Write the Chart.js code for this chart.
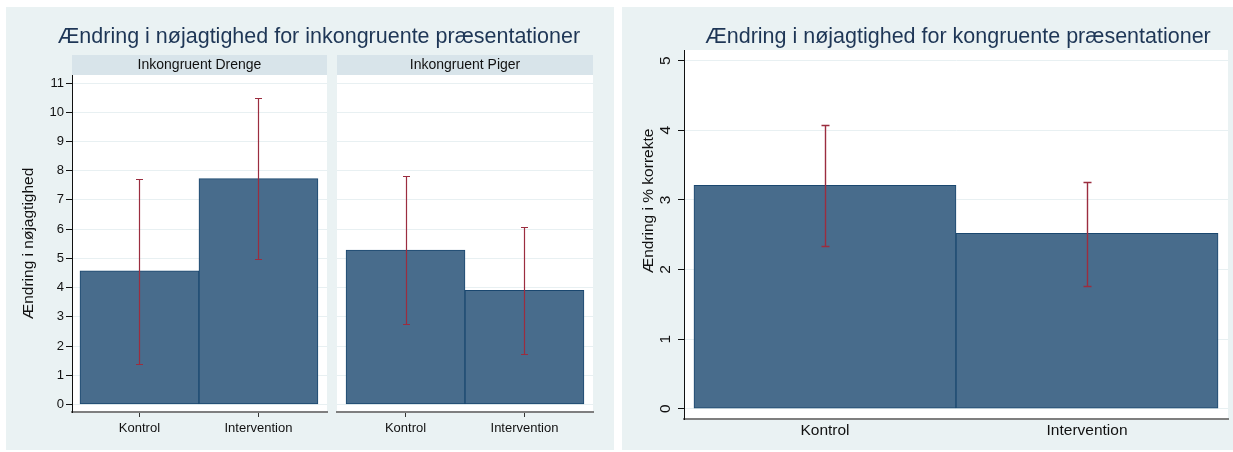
<!DOCTYPE html>
<html>
<head>
<meta charset="utf-8">
<script src="https://cdn.jsdelivr.net/npm/chart.js@4.4.1/dist/chart.umd.min.js"></script>
<style>
  html, body { margin: 0; padding: 0; background: #fff; }
  body { width: 1233px; height: 452px; position: relative; overflow: hidden; }
  .panel { position: absolute; top: 7px; height: 443px; background: #eaf2f3; }
  canvas { position: absolute; top: 7px; }
</style>
</head>
<body>
<div class="panel" style="left:6px;width:608px"></div>
<div class="panel" style="left:622px;width:611px"></div>
<canvas id="drenge" style="left:6px" width="608" height="443"></canvas>
<canvas id="piger" style="left:332px" width="282" height="443"></canvas>
<canvas id="kongruent" style="left:622px" width="611" height="443"></canvas>
<script>
// ── data ──────────────────────────────────────────────────────────────────
const categories = ['Kontrol', 'Intervention'];

const drengeMean = [4.57, 7.73];
const drengeLow  = [1.40, 4.97];
const drengeHigh = [7.72, 10.49];

const pigerMean  = [5.28, 3.91];
const pigerLow   = [2.75, 1.73];
const pigerHigh  = [7.82, 6.08];

const kongMean   = [3.21, 2.52];
const kongLow    = [2.34, 1.77];
const kongHigh   = [4.07, 3.26];

const inkTicks  = [0, 1, 2, 3, 4, 5, 6, 7, 8, 9, 10, 11];
const kongTicks = [0, 1, 2, 3, 4, 5];

// ── style ─────────────────────────────────────────────────────────────────
const FONT  = '"Liberation Sans", Arial, sans-serif';
const INK   = '#111';
const NAVY  = '#1e3656';
const GRID  = '#e8f0f2';
const BAR   = '#486c8c';
const EDGE  = '#1a476f';
const CI    = '#9b2d3f';
const STRIP = '#d8e4ea';

// ── plugins ───────────────────────────────────────────────────────────────
const plotBg = {
  id: 'plotBg',
  beforeDraw(chart) {
    const { ctx, chartArea: a } = chart;
    ctx.save();
    ctx.fillStyle = '#fff';
    ctx.fillRect(a.left, a.top, a.right - a.left, a.bottom - a.top);
    ctx.restore();
  }
};

// by-group header bar above the plot
const strip = {
  id: 'strip',
  beforeDraw(chart, args, o) {
    if (!o.text) return;
    const { ctx, chartArea: a } = chart;
    ctx.save();
    ctx.fillStyle = STRIP;
    ctx.fillRect(a.left, a.top - o.height, a.right - a.left, o.height);
    ctx.fillStyle = INK;
    ctx.font = `14px ${FONT}`;
    ctx.textAlign = 'center';
    ctx.textBaseline = 'alphabetic';
    ctx.fillText(o.text, (a.left + a.right) / 2, a.top - 6);
    ctx.restore();
  }
};

const heading = {
  id: 'heading',
  afterDraw(chart, args, o) {
    if (!o.text) return;
    const ctx = chart.ctx;
    ctx.save();
    ctx.fillStyle = NAVY;
    ctx.font = `21.5px ${FONT}`;
    ctx.textAlign = 'center';
    ctx.textBaseline = 'alphabetic';
    ctx.fillText(o.text, o.x, o.y);
    ctx.restore();
  }
};

const yLabel = {
  id: 'yLabel',
  afterDraw(chart, args, o) {
    if (!o.text) return;
    const { ctx, chartArea: a } = chart;
    const y = o.y != null ? o.y : (a.top + a.bottom) / 2;
    ctx.save();
    ctx.translate(o.x, y);
    ctx.rotate(-Math.PI / 2);
    ctx.fillStyle = INK;
    ctx.font = `15.5px ${FONT}`;
    ctx.textAlign = 'center';
    ctx.textBaseline = 'middle';
    ctx.fillText(o.text, 0, 0);
    ctx.restore();
  }
};

// confidence interval caps on each bar
const errorBars = {
  id: 'errorBars',
  afterDatasetsDraw(chart, args, o) {
    if (!o.low) return;
    const { ctx } = chart;
    const ys = chart.scales.y;
    ctx.save();
    ctx.strokeStyle = CI;
    ctx.lineWidth = o.width;
    chart.getDatasetMeta(0).data.forEach((bar, i) => {
      const x = Math.round(bar.x) + 0.5;
      const hi = Math.round(ys.getPixelForValue(o.high[i])) + 0.5;
      const lo = Math.round(ys.getPixelForValue(o.low[i])) + 0.5;
      ctx.beginPath();
      ctx.moveTo(x, hi); ctx.lineTo(x, lo);
      ctx.moveTo(x - o.cap, hi); ctx.lineTo(x + o.cap, hi);
      ctx.moveTo(x - o.cap, lo); ctx.lineTo(x + o.cap, lo);
      ctx.stroke();
    });
    ctx.restore();
  }
};

Chart.register(plotBg, strip, heading, yLabel, errorBars);

// ── helpers ───────────────────────────────────────────────────────────────
function barSet(values) {
  return {
    data: values.map((v, i) => ({ x: i, y: v })),
    backgroundColor: BAR,
    borderColor: EDGE,
    borderWidth: 1,
    borderSkipped: false,
    categoryPercentage: 1,
    barPercentage: 1
  };
}

function catAxis(min, max, size, tickLen, pad, height) {
  return {
    type: 'linear', min, max, offset: false,
    afterBuildTicks: s => { s.ticks = categories.map((c, i) => ({ value: i })); },
    afterFit: s => { s.height = height; s.paddingLeft = 0; s.paddingRight = 0; },
    ticks: { callback: v => categories[v], autoSkip: false, maxRotation: 0, color: INK, font: { family: FONT, size }, padding: pad },
    grid: { offset: false, drawOnChartArea: false, drawTicks: tickLen > 0, tickLength: tickLen, tickColor: '#333' },
    border: { color: '#7f7f7f', width: 2 }
  };
}

function valAxis(min, max, ticks, width, extra) {
  return Object.assign({
    min, max,
    afterBuildTicks: s => { s.ticks = ticks.map(v => ({ value: v })); },
    afterFit: s => { s.width = width; s.paddingTop = 0; s.paddingBottom = 0; },
    grid: { color: GRID, tickColor: '#111', tickLength: 6 },
    border: { color: '#111', width: 1 }
  }, extra);
}

function makeChart(id, cfg) {
  return new Chart(document.getElementById(id), {
    type: 'bar',
    data: { labels: categories, datasets: [barSet(cfg.values)] },
    options: {
      responsive: false, animation: false, events: [],
      layout: { padding: cfg.padding },
      scales: { x: cfg.x, y: cfg.y },
      plugins: Object.assign({ legend: { display: false }, tooltip: { enabled: false } }, cfg.plugins)
    }
  });
}

// ── inkongruent: drenge / piger ─────────────────────────────────────────────
makeChart('drenge', {
  values: drengeMean,
  padding: { top: 68, right: 287, bottom: 0, left: 0 },
  x: catAxis(-0.567, 1.576, 13, 5, 4, 38),
  y: valAxis(-0.257, 11.274, inkTicks, 66, {
    ticks: { color: INK, font: { family: FONT, size: 13 }, padding: 2 }
  }),
  plugins: {
    strip: { text: 'Inkongruent Drenge', height: 20 },
    heading: { text: 'Ændring i nøjagtighed for inkongruente præsentationer', x: 313, y: 36 },
    yLabel: { text: 'Ændring i nøjagtighed', x: 23 },
    errorBars: { low: drengeLow, high: drengeHigh, cap: 3.5, width: 1.2 }
  }
});

makeChart('piger', {
  values: pigerMean,
  padding: { top: 68, right: 21, bottom: 0, left: 0 },
  x: catAxis(-0.576, 1.576, 13, 5, 4, 38),
  y: valAxis(-0.257, 11.274, inkTicks, 5, {
    ticks: { display: false },
    grid: { color: GRID, drawTicks: false },
    border: { display: false }
  }),
  plugins: {
    strip: { text: 'Inkongruent Piger', height: 20 },
    errorBars: { low: pigerLow, high: pigerHigh, cap: 3.5, width: 1.2 }
  }
});

// ── kongruent ───────────────────────────────────────────────────────────────
makeChart('kongruent', {
  values: kongMean,
  padding: { top: 43, right: 5, bottom: 0, left: 0 },
  x: catAxis(-0.538, 1.538, 15.5, 0, 2, 31),
  y: valAxis(-0.148, 5.154, kongTicks, 62, {
    ticks: { color: INK, font: { family: FONT, size: 15.5 }, padding: 8, minRotation: 90, maxRotation: 90, crossAlign: 'center' }
  }),
  plugins: {
    heading: { text: 'Ændring i nøjagtighed for kongruente præsentationer', x: 336, y: 36 },
    yLabel: { text: 'Ændring i % korrekte', x: 27, y: 194 },
    errorBars: { low: kongLow, high: kongHigh, cap: 4, width: 1.4 }
  }
});
</script>
</body>
</html>
